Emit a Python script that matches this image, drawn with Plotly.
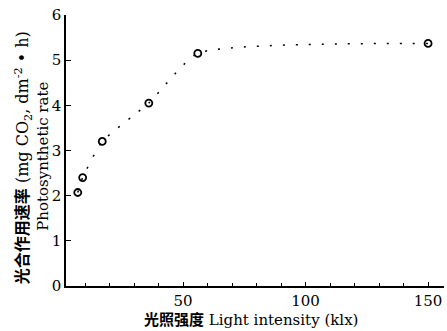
import plotly.graph_objects as go

light = [7, 9, 17, 36, 56, 150]
rate = [2.07, 2.4, 3.2, 4.05, 5.15, 5.37]
x_ticks = [50, 100, 150]
y_ticks = [0, 1, 2, 3, 4, 5, 6]

serif = "DejaVu Serif"
mixed = "DejaVu Serif, Noto Sans CJK SC"

fig = go.Figure()
fig.add_trace(go.Scatter(
    x=light, y=rate, mode="lines",
    line=dict(color="black", width=1.5, dash="2px,11px", shape="spline", smoothing=0.5),
    hoverinfo="skip", showlegend=False))
fig.add_trace(go.Scatter(
    x=light, y=rate, mode="markers",
    marker=dict(symbol="circle-open", size=7, color="black", line=dict(width=1.8, color="black")),
    showlegend=False))

fig.update_xaxes(
    range=[2.2, 156.5], showgrid=False, zeroline=False,
    showline=True, linecolor="black", linewidth=1.5,
    tickmode="array", tickvals=x_ticks, ticktext=[str(v) for v in x_ticks],
    ticks="inside", ticklen=4, tickcolor="black",
    minor=dict(dtick=10, tick0=0, ticks="inside", ticklen=3, tickcolor="black"),
    tickfont=dict(family=serif, size=15, color="black"))
fig.update_yaxes(
    range=[0, 6], showgrid=False, zeroline=False,
    showline=True, linecolor="black", linewidth=1.5,
    tickmode="array", tickvals=y_ticks, ticktext=[str(v) for v in y_ticks],
    ticks="inside", ticklen=5, tickcolor="black",
    tickfont=dict(family=serif, size=15, color="black"))

fig.add_annotation(
    text="<b>光合作用速率</b> (mg CO<sub>2</sub>, dm<sup>-2</sup> • h)",
    xref="paper", yref="paper", x=-0.114, y=0.475, xanchor="center", yanchor="middle",
    textangle=-90, showarrow=False,
    font=dict(family=mixed, size=16, color="black"))
fig.add_annotation(
    text="Photosynthetic rate",
    xref="paper", yref="paper", x=-0.061, y=0.48, xanchor="center", yanchor="middle",
    textangle=-90, showarrow=False,
    font=dict(family=serif, size=15, color="black"))
fig.add_annotation(
    text="<b>光照强度</b> Light intensity (klx)",
    xref="paper", yref="paper", x=0.49, y=-0.125, xanchor="center", yanchor="middle",
    showarrow=False, font=dict(family=mixed, size=15, color="black"))

fig.update_layout(
    width=447, height=331,
    margin=dict(l=66, r=3, t=15, b=45),
    plot_bgcolor="white", paper_bgcolor="white")

fig.write_html("out.html", config={"displayModeBar": False},
               post_script="document.body.style.margin='0';")
